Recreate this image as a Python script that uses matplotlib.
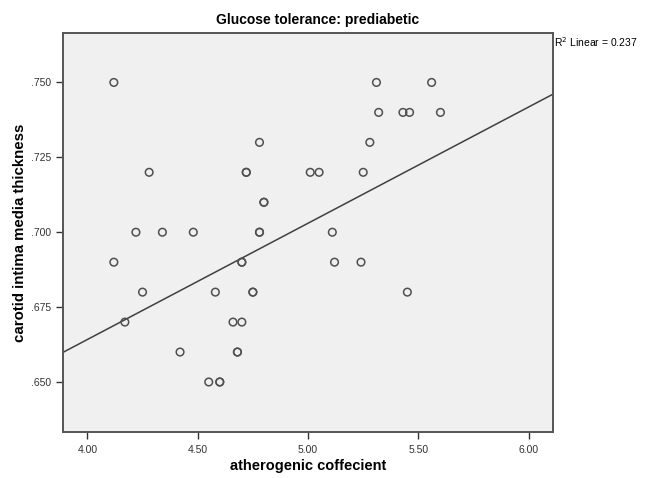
import matplotlib
matplotlib.use("Agg")
import matplotlib.pyplot as plt
import numpy as np

plt.rcParams['font.family'] = ['Liberation Sans', 'DejaVu Sans']

# atherogenic coefficient vs carotid intima media thickness (prediabetic group)
athero = [4.12, 5.31, 5.56,
          5.32, 5.43, 5.46, 5.60,
          4.78, 5.28,
          4.28, 4.72, 4.72, 5.01, 5.05, 5.25,
          4.80, 4.80,
          4.22, 4.34, 4.48, 4.78, 4.78, 5.11,
          4.12, 4.70, 4.70, 5.12, 5.24,
          4.25, 4.58, 4.75, 4.75, 5.45,
          4.17, 4.66, 4.70,
          4.42, 4.68, 4.68,
          4.55, 4.60, 4.60]
cimt = [0.750, 0.750, 0.750,
        0.740, 0.740, 0.740, 0.740,
        0.730, 0.730,
        0.720, 0.720, 0.720, 0.720, 0.720, 0.720,
        0.710, 0.710,
        0.700, 0.700, 0.700, 0.700, 0.700, 0.700,
        0.690, 0.690, 0.690, 0.690, 0.690,
        0.680, 0.680, 0.680, 0.680, 0.680,
        0.670, 0.670, 0.670,
        0.660, 0.660, 0.660,
        0.650, 0.650, 0.650]

# fit line as drawn in the figure
fit_intercept = 0.5089
fit_slope = 0.03882
r2 = 0.237

x_ticks = [4.00, 4.50, 5.00, 5.50, 6.00]
y_ticks = [0.650, 0.675, 0.700, 0.725, 0.750]

fig = plt.figure(figsize=(6.48, 4.78), dpi=100)
ax = fig.add_axes([0.0977, 0.0962, 0.7562, 0.8341])
ax.set_facecolor('#f0f0f0')

xlim = (3.891, 6.1115)
ax.set_xlim(*xlim)
ax.set_ylim(0.6333, 0.7664)

xs = np.array(xlim)
ax.plot(xs, fit_intercept + fit_slope * xs, color='#404040', lw=1.1, zorder=2)

ax.scatter(athero, cimt, s=30, facecolors='none', edgecolors='#505050',
           linewidths=1.1, zorder=3)

ax.set_xticks(x_ticks)
ax.set_xticklabels([f"{v:.2f}" for v in x_ticks])
ax.set_yticks(y_ticks)
ax.set_yticklabels([f"{v:.3f}".lstrip('0') for v in y_ticks])
ax.tick_params(axis='both', labelsize=7.5, colors='#333333', length=5, width=1,
               direction='out')
ax.tick_params(axis='x', pad=4)

for sp in ax.spines.values():
    sp.set_color('#555555')
    sp.set_linewidth(1.4)

ax.set_xlabel('atherogenic coffecient', fontsize=10.5, fontweight='bold',
              labelpad=3)
ax.set_ylabel('carotid intima media thickness', fontsize=10.8, fontweight='bold',
              labelpad=3)

fig.text(318 / 648, 1 - 20 / 478, 'Glucose tolerance: prediabetic',
         ha='center', va='center', fontsize=10, fontweight='bold')
fig.text(554 / 648, 1 - 42 / 478, r'R$^2$ Linear = ' + f'{r2:.3f}',
         ha='left', va='center', fontsize=7.5)

fig.savefig('out.png', dpi=100)
